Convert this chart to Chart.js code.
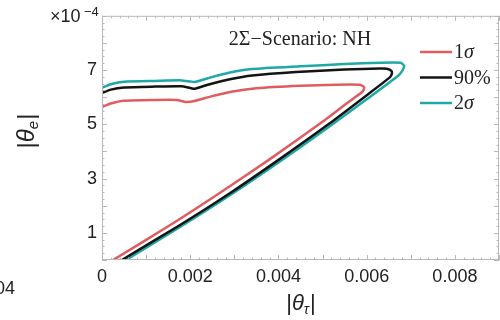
<!DOCTYPE html>
<html>
<head>
<meta charset="utf-8">
<script src="https://cdn.jsdelivr.net/npm/chart.js@4"></script>
<style>
  html, body { margin: 0; padding: 0; background: #fff; }
  #wrap { width: 500px; height: 320px; }
</style>
</head>
<body>
<div id="wrap"><canvas id="contours" width="500" height="320"></canvas></div>
<script>
// |theta_tau| along each contour (upper branch, tip, then the lower diagonal),
// and |theta_e| in units of 1e-4
const redX   = [0, 0.0002, 0.0005, 0.0012, 0.0017, 0.0019, 0.0021, 0.0025, 0.003, 0.0035, 0.0045, 0.0053, 0.00584,
                0.00594, 0.00593, 0.00589, 0.00559, 0.00492, 0.00379, 0.00266, 0.00153, 0.00025];
const redY   = [5.64, 5.77, 5.87, 5.90, 5.90, 5.82, 5.86, 6.04, 6.22, 6.33, 6.42, 6.46, 6.46,
                6.38, 6.27, 6.18, 5.82, 5.00, 3.70, 2.46, 1.27, 0];
const blackX = [0, 0.0002, 0.0005, 0.0012, 0.0018, 0.002, 0.0021, 0.0024, 0.0029, 0.0034, 0.0044, 0.0055, 0.0063,
                0.00646, 0.00656, 0.00657, 0.00653, 0.00604, 0.00514, 0.00401, 0.00289, 0.00176, 0.00045];
const blackY = [6.15, 6.28, 6.36, 6.39, 6.40, 6.34, 6.31, 6.46, 6.66, 6.80, 6.93, 7.02, 7.06,
                7.05, 6.97, 6.86, 6.74, 6.12, 5.01, 3.70, 2.45, 1.28, 0];
const tealX  = [0, 0.0002, 0.0005, 0.0012, 0.0018, 0.002, 0.0021, 0.0024, 0.0029, 0.0034, 0.0045, 0.0055, 0.0063,
                0.00677, 0.00685, 0.00681, 0.00672, 0.00604, 0.00514, 0.00409, 0.00289, 0.00176, 0.00054];
const tealY  = [6.35, 6.48, 6.57, 6.60, 6.62, 6.58, 6.56, 6.70, 6.91, 7.04, 7.14, 7.22, 7.27,
                7.27, 7.15, 6.98, 6.80, 5.97, 4.90, 3.70, 2.38, 1.21, 0];

const labels = ["1σ", "90%", "2σ"];
const colors = ["#e05c60", "#141414", "#1fa8a8"];
const xTicks = [0, 0.002, 0.004, 0.006, 0.008];
const yTicks = [1, 3, 5, 7];

const toPts = (xs, ys) => xs.map((x, i) => ({ x: x, y: ys[i] }));
const series = [toPts(redX, redY), toPts(blackX, blackY), toPts(tealX, tealY)];

const sans = "'Liberation Sans', Arial, sans-serif";
const serif = "'Liberation Serif', 'Times New Roman', serif";

// frame, inward ticks, title, legend and axis titles
const decor = {
  id: "decor",
  afterDraw(chart) {
    const ctx = chart.ctx;
    const a = chart.chartArea;
    const xs = chart.scales.x, ys = chart.scales.y;
    ctx.save();
    ctx.strokeStyle = "#b8b8b8";
    ctx.lineWidth = 1;
    ctx.strokeRect(a.left + 0.5, a.top + 0.5, a.right - a.left - 1, a.bottom - a.top - 1);

    ctx.beginPath();
    for (let v = 0; v <= 9.001; v += 0.25) {
      const y = Math.round(ys.getPixelForValue(v)) + 0.5;
      const len = Math.abs(v - Math.round(v)) < 1e-6 ? 5 : 2.5;
      ctx.moveTo(a.left, y); ctx.lineTo(a.left + len, y);
      ctx.moveTo(a.right, y); ctx.lineTo(a.right - len, y);
    }
    for (let k = 0; k <= 45; k++) {
      const x = Math.round(xs.getPixelForValue(k * 0.0002)) + 0.5;
      const len = k % 5 === 0 ? 5 : 2.5;
      ctx.moveTo(x, a.bottom); ctx.lineTo(x, a.bottom - len);
      ctx.moveTo(x, a.top); ctx.lineTo(x, a.top + len);
    }
    ctx.stroke();

    // title
    ctx.fillStyle = "#222";
    ctx.font = "20px " + serif;
    ctx.textAlign = "center";
    ctx.textBaseline = "alphabetic";
    ctx.fillText("2Σ−Scenario: NH", 300, 45);

    // legend
    chart.data.datasets.forEach((ds, i) => {
      const y = 52 + i * 25.5;
      ctx.strokeStyle = ds.borderColor;
      ctx.lineWidth = 2.5;
      ctx.beginPath(); ctx.moveTo(420, y); ctx.lineTo(452, y); ctx.stroke();
      ctx.fillStyle = "#222";
      ctx.textAlign = "left";
      ctx.textBaseline = "middle";
      const txt = ds.label;
      if (txt.endsWith("σ")) {
        ctx.font = "20px " + serif;
        ctx.fillText(txt.slice(0, -1), 454, y + 1);
        const w = ctx.measureText(txt.slice(0, -1)).width;
        ctx.font = "italic 20px " + serif;
        ctx.fillText("σ", 454 + w, y + 1);
      } else {
        ctx.font = "20px " + serif;
        ctx.fillText(txt, 454, y + 1);
      }
    });

    // exponent note
    ctx.fillStyle = "#222";
    ctx.textAlign = "left";
    ctx.textBaseline = "alphabetic";
    ctx.font = "18px " + sans;
    ctx.fillText("×10", 50, 22);
    ctx.font = "13px " + sans;
    ctx.fillText("−4", 84, 16);

    // neighbouring panel's leftover label
    ctx.font = "18px " + sans;
    ctx.textAlign = "right";
    ctx.textBaseline = "middle";
    ctx.fillText("0.004", 15, 289);

    // axis titles
    const axisTitle = (sub, size) => {
      ctx.textAlign = "left";
      ctx.textBaseline = "alphabetic";
      const big = size + "px " + sans;
      const bigI = "italic " + size + "px " + sans;
      const small = "italic " + Math.round(size * 0.62) + "px " + sans;
      ctx.font = big;
      const w1 = ctx.measureText("|").width;
      ctx.font = bigI;
      const w2 = ctx.measureText("θ").width;
      ctx.font = small;
      const w3 = ctx.measureText(sub).width;
      const total = w1 * 2 + w2 + w3 + 1;
      let x = -total / 2;
      const base = size * 0.36;
      ctx.font = big;
      ctx.fillText("|", x, base); x += w1;
      ctx.font = bigI;
      ctx.fillText("θ", x, base); x += w2;
      ctx.font = small;
      ctx.fillText(sub, x, base + size * 0.18); x += w3 + 1;
      ctx.font = big;
      ctx.fillText("|", x, base);
    };
    ctx.save();
    ctx.translate(301, 302);
    axisTitle("τ", 22);
    ctx.restore();
    ctx.save();
    ctx.translate(25, 131);
    ctx.rotate(-Math.PI / 2);
    axisTitle("e", 24);
    ctx.restore();

    ctx.restore();
  }
};

new Chart(document.getElementById("contours"), {
  type: "scatter",
  data: {
    datasets: series.map((pts, i) => ({
      label: labels[i],
      data: pts,
      showLine: true,
      fill: false,
      borderColor: colors[i],
      borderWidth: 2.5,
      pointRadius: 0,
      tension: 0.2
    }))
  },
  options: {
    responsive: false,
    animation: false,
    layout: { padding: { top: 15, right: 1, left: 0, bottom: 0 } },
    plugins: { legend: { display: false }, tooltip: { enabled: false } },
    scales: {
      x: {
        type: "linear",
        min: 0,
        max: 0.009,
        afterFit: s => { s.height = 60; },
        afterBuildTicks: s => { s.ticks = xTicks.map(v => ({ value: v })); },
        grid: { display: false, drawTicks: false },
        border: { display: false },
        ticks: {
          padding: 6,
          color: "#222",
          font: { family: sans, size: 18 },
          maxRotation: 0,
          callback: v => v === 0 ? "0" : v.toFixed(3)
        }
      },
      y: {
        type: "linear",
        min: 0,
        max: 9,
        afterFit: s => { s.width = 102; },
        afterBuildTicks: s => { s.ticks = yTicks.map(v => ({ value: v })); },
        grid: { display: false, drawTicks: false },
        border: { display: false },
        ticks: {
          padding: 5,
          color: "#222",
          font: { family: sans, size: 18 },
          callback: v => String(v)
        }
      }
    }
  },
  plugins: [decor]
});
</script>
</body>
</html>
